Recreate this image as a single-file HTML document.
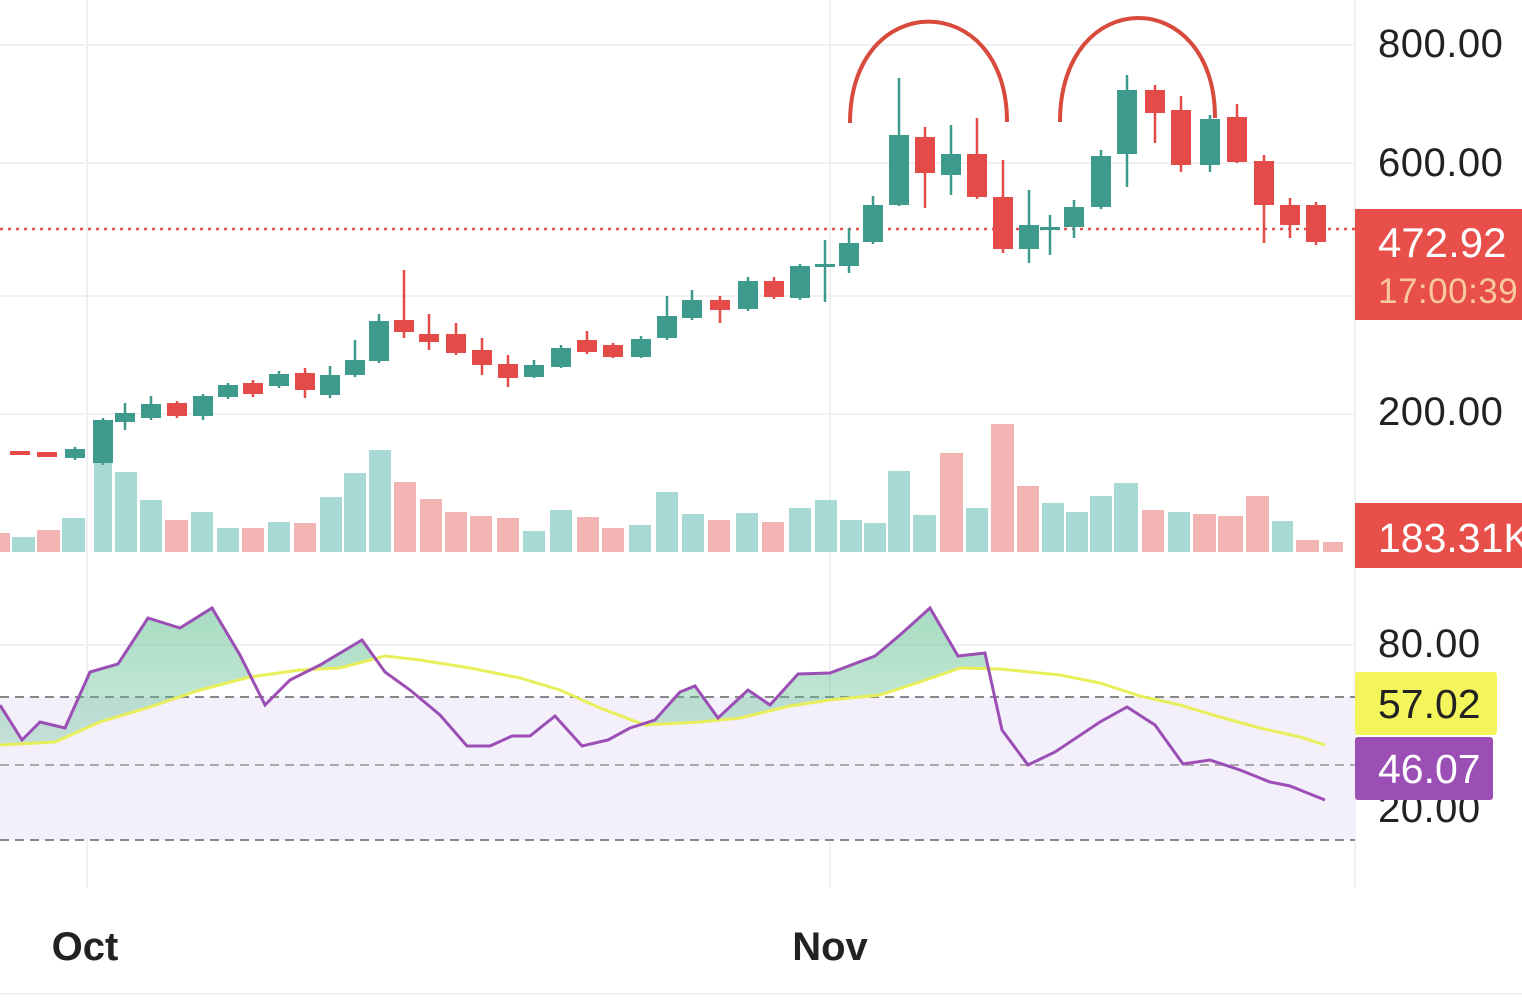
<!DOCTYPE html>
<html><head><meta charset="utf-8"><style>
html,body{margin:0;padding:0;background:#fff;}
svg{display:block;font-family:"Liberation Sans",sans-serif;}
</style></head><body>
<svg width="1522" height="1003" viewBox="0 0 1522 1003" xmlns="http://www.w3.org/2000/svg">
<defs>
<linearGradient id="gg" x1="0" y1="0" x2="0" y2="1">
<stop offset="0" stop-color="#5fbf8f" stop-opacity="0.55"/>
<stop offset="1" stop-color="#5fbf8f" stop-opacity="0.05"/>
</linearGradient>
<clipPath id="aboveY"><polygon points="0,0 0,745 55,742 100,722 150,707 200,690 250,677 300,670 340,668 385,656 420,660 470,668 520,678 560,690 600,708 645,725 700,722 740,718 790,706 830,700 880,695 920,682 960,668 1000,669 1060,675 1100,683 1140,696 1180,705 1220,717 1260,728 1300,737 1325,745 1325,0"/></clipPath>
</defs>
<rect width="1522" height="1003" fill="#fff"/>
<g stroke="#eef0f3" stroke-width="2">
<line x1="0" y1="45" x2="1355" y2="45"/><line x1="0" y1="163" x2="1355" y2="163"/>
<line x1="0" y1="296" x2="1355" y2="296"/><line x1="0" y1="414" x2="1355" y2="414"/>
<line x1="0" y1="645" x2="1355" y2="645"/>
<line x1="87" y1="0" x2="87" y2="888"/><line x1="830" y1="0" x2="830" y2="888"/>
<line x1="1355" y1="0" x2="1355" y2="888"/>
<line x1="0" y1="994" x2="1522" y2="994"/>
</g>
<rect x="0" y="697" width="1355" height="143" fill="#f3effb"/>
<g stroke="#888" stroke-width="2" stroke-dasharray="9,6">
<line x1="0" y1="697" x2="1355" y2="697"/><line x1="0" y1="765" x2="1355" y2="765" stroke="#aaa"/><line x1="0" y1="840" x2="1355" y2="840"/>
</g>
<g id="vol"></g>
<line x1="0" y1="229" x2="1355" y2="229" stroke="#e0504c" stroke-width="2.5" stroke-dasharray="3,5"/>
<g id="cd"></g>
<g fill="none" stroke="#d84a3c" stroke-width="4">
<path d="M850,123 C850,-12 1007,-12 1007,122"/>
<path d="M1060,122 C1060,-16 1215,-16 1215,118"/>
</g>
<polygon clip-path="url(#aboveY)" fill="url(#gg)" points="0,705 22,740 40,722 65,728 90,672 118,664 148,618 180,628 212,608 240,655 265,705 290,680 320,665 362,640 385,672 410,690 440,715 467,746 490,746 512,736 530,736 555,716 582,746 608,740 630,728 655,720 680,692 695,686 718,718 748,690 770,705 798,674 830,673 875,656 900,635 930,608 958,656 985,653 1002,730 1028,765 1055,752 1100,722 1127,707 1155,725 1183,764 1210,760 1240,770 1270,782 1290,786 1325,800 1325,900 0,900"/>
<polyline fill="none" stroke="#e8ef5a" stroke-width="3" points="0,745 55,742 100,722 150,707 200,690 250,677 300,670 340,668 385,656 420,660 470,668 520,678 560,690 600,708 645,725 700,722 740,718 790,706 830,700 880,695 920,682 960,668 1000,669 1060,675 1100,683 1140,696 1180,705 1220,717 1260,728 1300,737 1325,745"/>
<polyline fill="none" stroke="#9b4fb5" stroke-width="3" points="0,705 22,740 40,722 65,728 90,672 118,664 148,618 180,628 212,608 240,655 265,705 290,680 320,665 362,640 385,672 410,690 440,715 467,746 490,746 512,736 530,736 555,716 582,746 608,740 630,728 655,720 680,692 695,686 718,718 748,690 770,705 798,674 830,673 875,656 900,635 930,608 958,656 985,653 1002,730 1028,765 1055,752 1100,722 1127,707 1155,725 1183,764 1210,760 1240,770 1270,782 1290,786 1325,800"/>
<g font-size="40" fill="#222" letter-spacing="0.5">
<text x="1378" y="57">800.00</text><text x="1378" y="176">600.00</text><text x="1378" y="425">200.00</text>
<text x="1378" y="657">80.00</text><text x="1378" y="822">20.00</text>
</g>
<rect x="1355" y="209" width="167" height="111" fill="#e84e4a"/>
<text x="1378" y="257" font-size="42" fill="#fff">472.92</text>
<text x="1378" y="303" font-size="35" fill="#f8c9a0" letter-spacing="0.5">17:00:39</text>
<rect x="1355" y="503" width="167" height="65" fill="#e84e4a"/>
<text x="1378" y="552" font-size="41" fill="#fff">183.31K</text>
<rect x="1355" y="672" width="142" height="63" rx="3" fill="#f3f55a"/>
<text x="1378" y="718" font-size="41" fill="#222">57.02</text>
<rect x="1355" y="737" width="138" height="63" rx="3" fill="#9b4fb5"/>
<text x="1378" y="783" font-size="41" fill="#fff">46.07</text>
<text x="85" y="960" font-size="40" font-weight="bold" fill="#222" text-anchor="middle">Oct</text>
<text x="830" y="960" font-size="40" font-weight="bold" fill="#222" text-anchor="middle">Nov</text>
</svg>
<script>
const G='#3e9a8c',R='#e44b48',NS='http://www.w3.org/2000/svg';
const c=[[20,451,455,451,455,'r'],[47,452,457,452,457,'r'],[75,449,458,447,460,'g'],[103,420,463,418,465,'g'],[125,413,422,403,430,'g'],[151,404,418,396,420,'g'],[177,403,416,401,418,'r'],[203,396,416,394,420,'g'],[228,385,397,383,399,'g'],[253,383,394,380,397,'r'],[279,374,386,371,388,'g'],[305,373,390,368,398,'r'],[330,375,395,366,398,'g'],[355,360,375,340,377,'g'],[379,321,361,314,363,'g'],[404,320,332,270,338,'r'],[429,334,342,314,350,'r'],[456,334,353,323,355,'r'],[482,350,365,338,375,'r'],[508,364,378,355,387,'r'],[534,365,377,360,378,'g'],[561,348,367,345,368,'g'],[587,340,352,331,354,'r'],[613,345,357,343,358,'r'],[641,339,357,336,358,'g'],[667,316,338,296,340,'g'],[692,300,318,290,320,'g'],[720,300,310,296,323,'r'],[748,281,309,277,311,'g'],[774,281,297,277,299,'r'],[800,266,298,264,300,'g'],[825,264,267,240,302,'g'],[849,243,266,228,273,'g'],[873,205,242,196,244,'g'],[899,135,205,78,206,'g'],[925,137,173,127,208,'r'],[951,154,175,125,195,'g'],[977,154,197,118,199,'r'],[1003,197,249,160,253,'r'],[1029,225,249,190,263,'g'],[1050,227,230,215,255,'g'],[1074,207,227,200,238,'g'],[1101,156,207,150,209,'g'],[1127,90,154,75,187,'g'],[1155,90,113,85,143,'r'],[1181,110,165,96,172,'r'],[1210,119,165,115,172,'g'],[1237,117,162,104,163,'r'],[1264,161,205,155,243,'r'],[1290,205,225,198,238,'r'],[1316,205,242,202,245,'r']];
const cd=document.getElementById('cd');
function el(n,a,p){const e=document.createElementNS(NS,n);for(const k in a)e.setAttribute(k,a[k]);p.appendChild(e);}
c.forEach(d=>{const col=d[5]=='g'?G:R;el('line',{x1:d[0],x2:d[0],y1:d[3],y2:d[4],stroke:col,'stroke-width':2.5},cd);el('rect',{x:d[0]-10,y:d[1],width:20,height:Math.max(3,d[2]-d[1]),fill:col},cd);});
const v=[[0,10,533,'r'],[12,35,537,'g'],[37,60,530,'r'],[62,85,518,'g'],[94,112,420,'g'],[115,137,472,'g'],[140,162,500,'g'],[165,188,520,'r'],[191,213,512,'g'],[217,239,528,'g'],[242,264,528,'r'],[268,290,522,'g'],[294,316,523,'r'],[320,342,497,'g'],[344,366,473,'g'],[369,391,450,'g'],[394,416,482,'r'],[420,442,499,'r'],[445,467,512,'r'],[470,492,516,'r'],[497,519,518,'r'],[523,545,531,'g'],[550,572,510,'g'],[577,599,517,'r'],[602,624,528,'r'],[629,651,525,'g'],[656,678,492,'g'],[682,704,514,'g'],[708,730,520,'r'],[736,758,513,'g'],[762,784,522,'r'],[789,811,508,'g'],[815,837,500,'g'],[840,862,520,'g'],[864,886,523,'g'],[888,910,471,'g'],[913,936,515,'g'],[940,963,453,'r'],[966,988,508,'g'],[991,1014,424,'r'],[1017,1039,486,'r'],[1042,1064,503,'g'],[1066,1088,512,'g'],[1090,1112,496,'g'],[1114,1138,483,'g'],[1142,1164,510,'r'],[1168,1190,512,'g'],[1193,1216,514,'r'],[1218,1243,516,'r'],[1246,1269,496,'r'],[1272,1293,521,'g'],[1296,1319,540,'r'],[1323,1343,542,'r']];
const vg=document.getElementById('vol');
v.forEach(d=>el('rect',{x:d[0],y:d[2],width:d[1]-d[0],height:552-d[2],fill:d[3]=='g'?'#a8d9d5':'#f2b3b3'},vg));
</script>
</body></html>
